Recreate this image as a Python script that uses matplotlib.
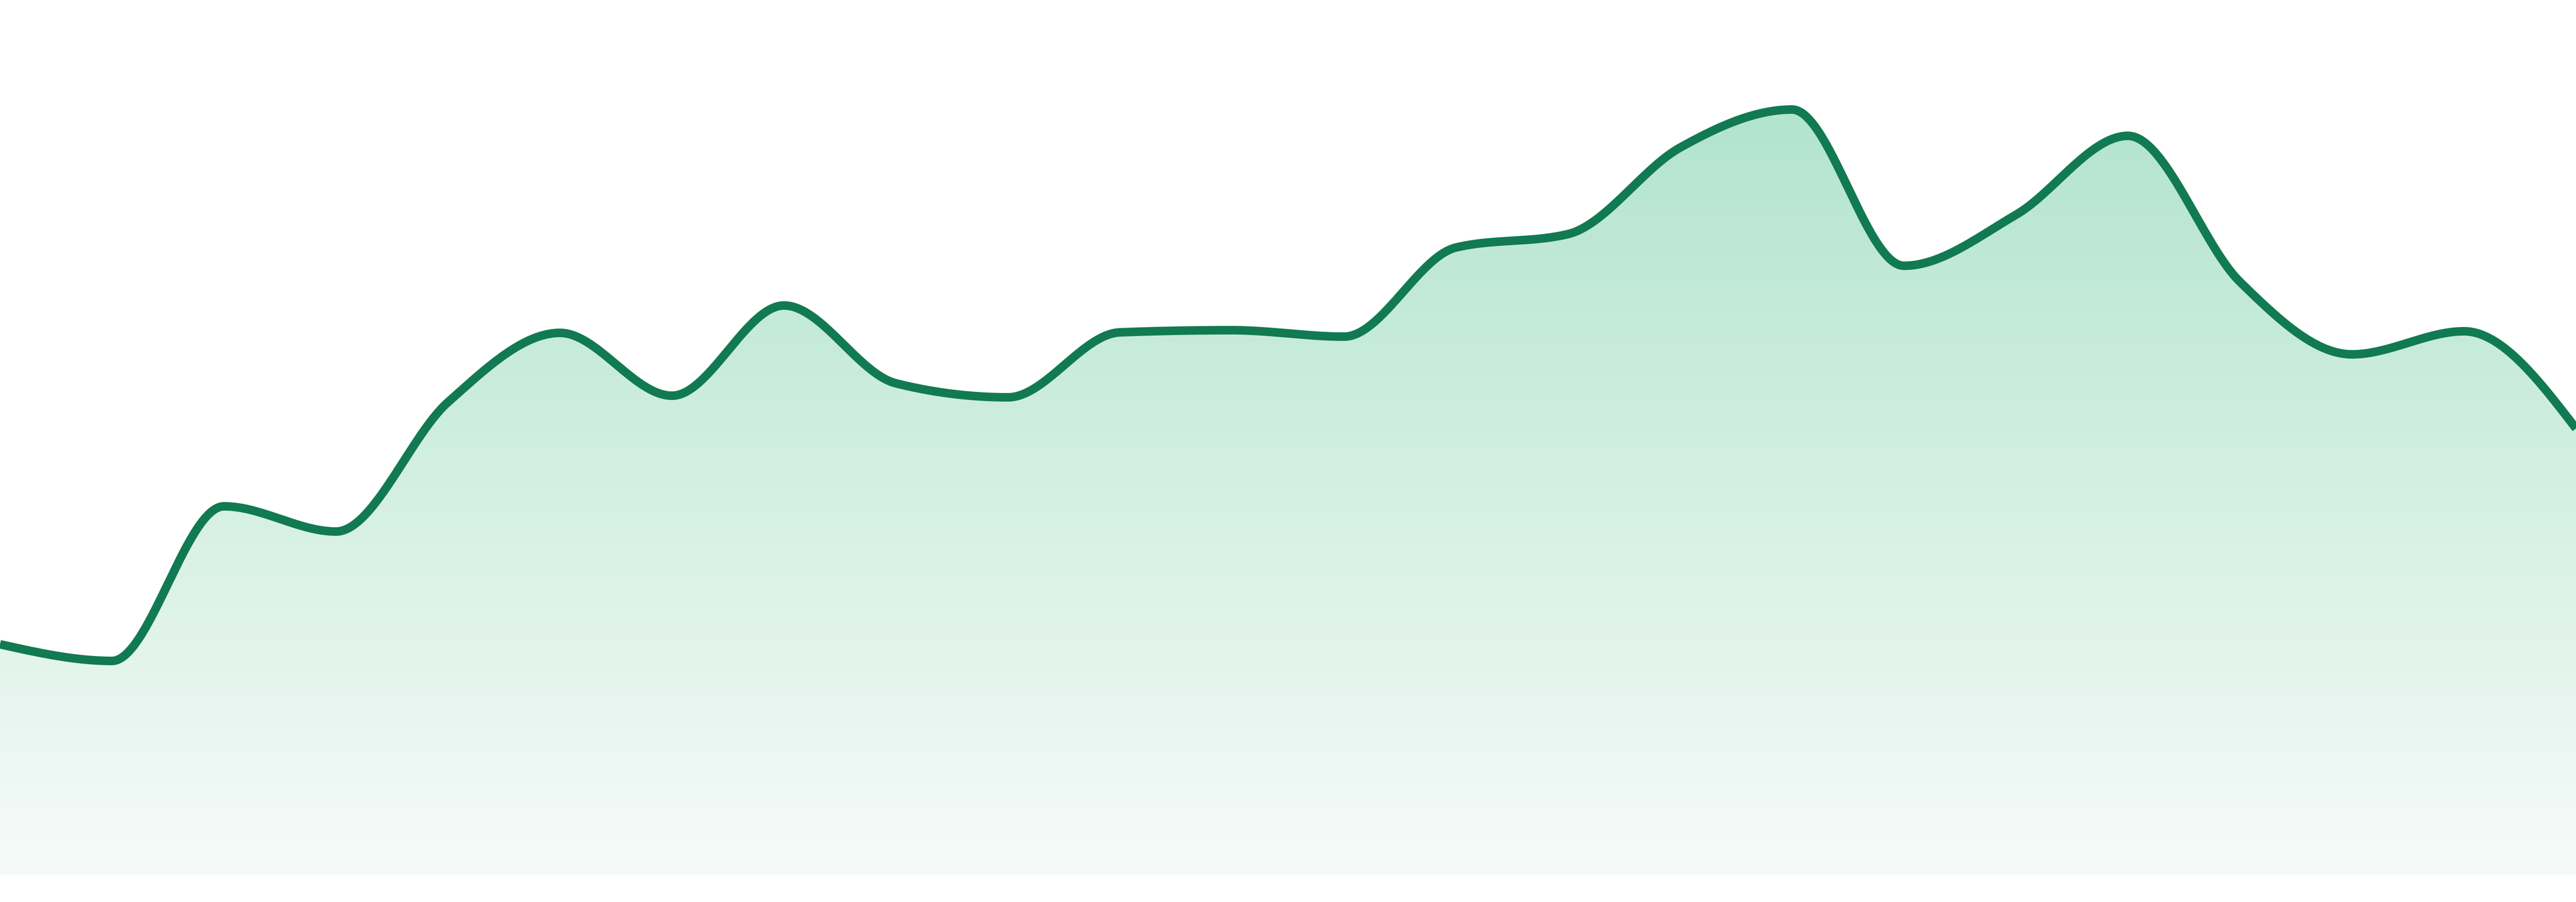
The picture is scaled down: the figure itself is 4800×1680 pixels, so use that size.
import numpy as np
import matplotlib
matplotlib.use("Agg")
import matplotlib.pyplot as plt
from matplotlib.patches import Polygon

# valores (unidades arbitrarias)
idx = list(range(24))
values = [43.0, 39.9, 68.7, 64.0, 88.1, 101.0, 89.3, 106.1, 91.6, 89.0, 101.1, 101.5,
          100.3, 116.9, 119.4, 135.5, 142.6, 113.5, 123.0, 137.7, 110.5, 97.0, 101.3, 83.2]

LINE_COLOR = "#117a52"
TOP_RGB = (178, 228, 206)
BOT_RGB = (246, 251, 249)


def _sign(v):
    return -1.0 if v < 0 else 1.0


def monotone_x(xs, ys, n_seg=60):
    """Curva monotona tipo d3.curveMonotoneX -> puntos densos"""
    xs = np.asarray(xs, float)
    ys = np.asarray(ys, float)
    n = len(xs)
    t = np.zeros(n)
    for i in range(1, n - 1):
        h0 = xs[i] - xs[i - 1]
        h1 = xs[i + 1] - xs[i]
        s0 = (ys[i] - ys[i - 1]) / h0
        s1 = (ys[i + 1] - ys[i]) / h1
        p = (s0 * h1 + s1 * h0) / (h0 + h1)
        t[i] = (_sign(s0) + _sign(s1)) * min(abs(s0), abs(s1), 0.5 * abs(p))
    h = xs[1] - xs[0]
    t[0] = (3 * (ys[1] - ys[0]) / h - t[1]) / 2
    h = xs[-1] - xs[-2]
    t[-1] = (3 * (ys[-1] - ys[-2]) / h - t[-2]) / 2

    px, py = [xs[0]], [ys[0]]
    u = np.linspace(0, 1, n_seg + 1)[1:]
    for i in range(n - 1):
        dx = (xs[i + 1] - xs[i]) / 3
        p0 = (xs[i], ys[i])
        p1 = (xs[i] + dx, ys[i] + dx * t[i])
        p2 = (xs[i + 1] - dx, ys[i + 1] - dx * t[i + 1])
        p3 = (xs[i + 1], ys[i + 1])
        a = (1 - u) ** 3
        b = 3 * (1 - u) ** 2 * u
        c = 3 * (1 - u) * u ** 2
        d = u ** 3
        px.extend(a * p0[0] + b * p1[0] + c * p2[0] + d * p3[0])
        py.extend(a * p0[1] + b * p1[1] + c * p2[1] + d * p3[1])
    return np.array(px), np.array(py)


fig = plt.figure(figsize=(48, 16.8), dpi=100)
ax = fig.add_axes([0, 0, 1, 1])
ax.set_xlim(0, 23)
ax.set_ylim(-5, 163)
ax.axis("off")

cx, cy = monotone_x(idx, values)

# relleno con degradado vertical
ymax = max(values)
grad = np.linspace(0, 1, 256)[:, None]
top = np.array(TOP_RGB) / 255
bot = np.array(BOT_RGB) / 255
img = (top[None, None, :] * (1 - grad[..., None]) + bot[None, None, :] * grad[..., None])
img = np.repeat(img, 2, axis=1)
im = ax.imshow(img, extent=(0, 23, 0, ymax), aspect="auto", origin="upper",
               interpolation="bilinear", zorder=1)
poly_xy = np.column_stack([np.r_[cx, cx[-1], cx[0]], np.r_[cy, 0, 0]])
clip = Polygon(poly_xy, closed=True, facecolor="none", edgecolor="none")
ax.add_patch(clip)
im.set_clip_path(clip)

ax.plot(cx, cy, color=LINE_COLOR, linewidth=11.5, solid_joinstyle="round",
        solid_capstyle="butt", zorder=3)

fig.savefig("out.png", dpi=100, facecolor="white")
